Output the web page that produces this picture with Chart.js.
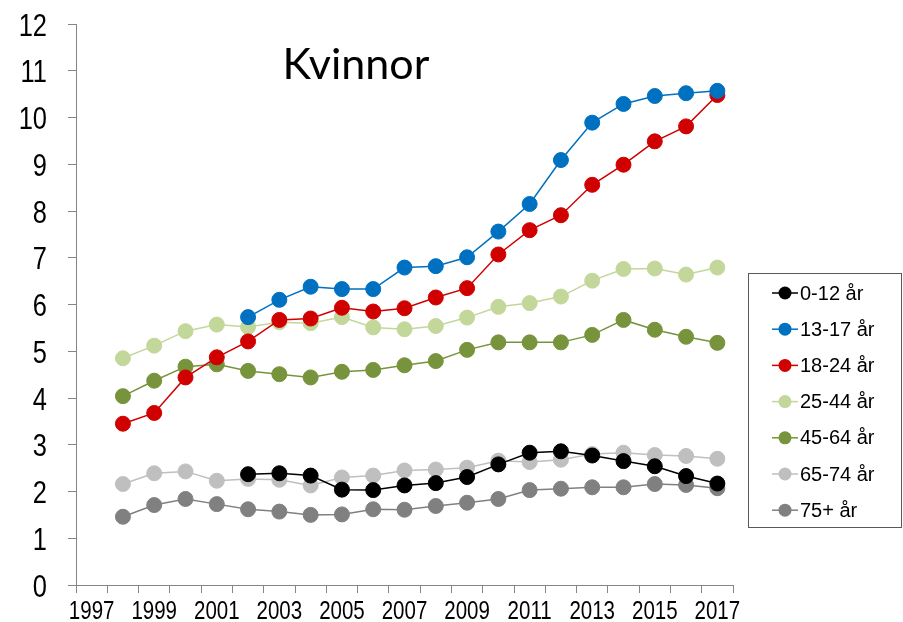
<!DOCTYPE html>
<html>
<head>
<meta charset="utf-8">
<script src="https://cdn.jsdelivr.net/npm/chart.js@4.4.0/dist/chart.umd.min.js"></script>
<style>
  html, body { margin: 0; padding: 0; background: #fff; }
  #wrap { position: relative; width: 903px; height: 622px; }
</style>
</head>
<body>
<div id="wrap"><canvas id="myChart" width="903" height="622"></canvas></div>
<script>
// years on the x axis (data starts in 1998)
var years = ['1997','1998','1999','2000','2001','2002','2003','2004','2005','2006','2007',
             '2008','2009','2010','2011','2012','2013','2014','2015','2016','2017'];

var seriesNames = ['0-12 år', '13-17 år', '18-24 år', '25-44 år', '45-64 år', '65-74 år', '75+ år'];

var age0_12  = [null, null, null, null, null, 2.37, 2.39, 2.34, 2.04, 2.03, 2.13, 2.18, 2.31, 2.58, 2.83, 2.86, 2.77, 2.65, 2.54, 2.33, 2.17];
var age13_17 = [null, null, null, null, null, 5.73, 6.10, 6.38, 6.33, 6.33, 6.79, 6.82, 7.01, 7.56, 8.15, 9.09, 9.89, 10.29, 10.46, 10.52, 10.57];
var age18_24 = [null, 3.45, 3.68, 4.44, 4.87, 5.21, 5.67, 5.70, 5.93, 5.85, 5.92, 6.15, 6.35, 7.07, 7.59, 7.91, 8.56, 8.99, 9.49, 9.81, 10.48];
var age25_44 = [null, 4.85, 5.12, 5.43, 5.57, 5.52, 5.62, 5.60, 5.73, 5.51, 5.47, 5.54, 5.72, 5.95, 6.03, 6.17, 6.51, 6.76, 6.77, 6.64, 6.79];
var age45_64 = [null, 4.04, 4.37, 4.67, 4.72, 4.58, 4.51, 4.44, 4.56, 4.60, 4.70, 4.79, 5.03, 5.19, 5.19, 5.19, 5.35, 5.67, 5.46, 5.31, 5.18];
var age65_74 = [null, 2.16, 2.39, 2.43, 2.23, 2.27, 2.25, 2.13, 2.30, 2.34, 2.45, 2.47, 2.51, 2.66, 2.63, 2.68, 2.80, 2.83, 2.78, 2.76, 2.70];
var age75    = [null, 1.46, 1.71, 1.84, 1.73, 1.62, 1.57, 1.50, 1.51, 1.62, 1.61, 1.69, 1.76, 1.84, 2.03, 2.06, 2.09, 2.09, 2.16, 2.14, 2.07];

var colors = ['#000000', '#0070C0', '#D00000', '#C4D79B', '#77933C', '#BFBFBF', '#808080'];
var allSeries = [age0_12, age13_17, age18_24, age25_44, age45_64, age65_74, age75];

var axisGray = '#868686';
var narrow = 0.82; // squeeze to look like Arial Narrow

var datasets = allSeries.map(function(values, i) {
    return {
        label: seriesNames[i],
        data: values,
        borderColor: colors[i],
        backgroundColor: colors[i],
        borderWidth: 1.5,
        pointRadius: 7.5,
        pointBorderWidth: 1,
        pointBorderColor: colors[i],
        pointBackgroundColor: colors[i],
        tension: 0,
        spanGaps: false
    };
});

// condensed tick labels, title inside the plot, boxed legend on the right
var extras = {
    id: 'extras',
    afterDraw: function(chart) {
        var ctx = chart.ctx;
        var area = chart.chartArea;
        var xs = chart.scales.x, ys = chart.scales.y;
        ctx.save();
        ctx.fillStyle = '#000';
        ctx.textBaseline = 'alphabetic';

        // y tick labels
        ctx.font = '31px "Liberation Sans", Arial, sans-serif';
        ctx.textAlign = 'right';
        ys.ticks.forEach(function(t, i) {
            var py = ys.getPixelForTick(i);
            ctx.save();
            ctx.scale(narrow, 1);
            ctx.fillText(String(t.value), 47 / narrow, py + 11.5);
            ctx.restore();
        });

        // x tick labels, every other year
        ctx.font = '25px "Liberation Sans", Arial, sans-serif';
        ctx.textAlign = 'center';
        xs.ticks.forEach(function(t, i) {
            if (i % 2 !== 0) return;
            var px = xs.getPixelForTick(i);
            ctx.save();
            ctx.scale(narrow, 1);
            ctx.fillText(xs.getLabelForValue(t.value), px / narrow, 619);
            ctx.restore();
        });

        ctx.font = '43px Lato, "Liberation Sans", Arial, sans-serif';
        ctx.textAlign = 'center';
        ctx.textBaseline = 'middle';
        ctx.fillText('Kvinnor', area.left + (area.right - area.left) * 0.426, 65);

        // legend box
        var bx = 748.5, by = 273.5, bw = 153, bh = 254;
        ctx.strokeStyle = '#595959';
        ctx.lineWidth = 1;
        ctx.strokeRect(bx, by, bw, bh);
        ctx.font = '20px "Liberation Sans", Arial, sans-serif';
        ctx.textAlign = 'left';
        chart.data.datasets.forEach(function(ds, i) {
            var y = 293 + i * 36.2;
            ctx.strokeStyle = ds.borderColor;
            ctx.lineWidth = 1.5;
            ctx.beginPath();
            ctx.moveTo(772, y);
            ctx.lineTo(798, y);
            ctx.stroke();
            ctx.fillStyle = ds.borderColor;
            ctx.beginPath();
            ctx.arc(785, y, 6.5, 0, Math.PI * 2);
            ctx.fill();
            ctx.fillStyle = '#000';
            ctx.fillText(ds.label, 800, y + 1);
        });
        ctx.restore();
    }
};

var ctx = document.getElementById('myChart').getContext('2d');
var myChart = new Chart(ctx, {
    type: 'line',
    data: { labels: years, datasets: datasets },
    plugins: [extras],
    options: {
        responsive: false,
        animation: false,
        layout: { padding: { left: 0, right: 170, top: 24, bottom: 0 } },
        plugins: {
            legend: { display: false },
            tooltip: { enabled: false }
        },
        scales: {
            x: {
                type: 'category',
                offset: true,
                grid: { display: true, offset: true, drawOnChartArea: false, tickLength: 8, color: axisGray },
                border: { color: axisGray, width: 1 },
                ticks: { display: false, autoSkip: false, maxRotation: 0 },
                afterFit: function(scale) {
                    scale.height = 37;
                    scale.paddingLeft = 0;
                    scale.paddingRight = 0;
                }
            },
            y: {
                min: 0,
                max: 12,
                grid: { display: true, drawOnChartArea: false, tickLength: 8, color: axisGray },
                border: { color: axisGray, width: 1 },
                ticks: { display: false, stepSize: 1 },
                afterFit: function(scale) {
                    scale.width = 76;
                    scale.paddingTop = 0;
                    scale.paddingBottom = 0;
                }
            }
        }
    }
});
</script>
</body>
</html>
